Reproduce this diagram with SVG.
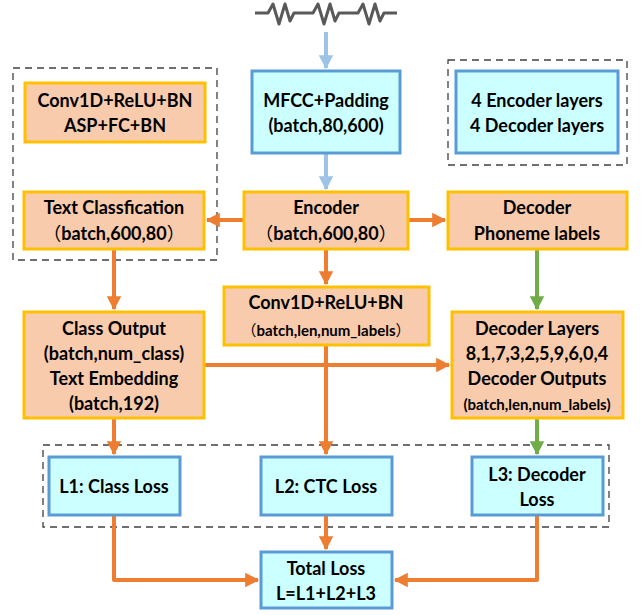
<svg xmlns="http://www.w3.org/2000/svg" width="641" height="615" viewBox="0 0 641 615">
<defs>
<style>
.o{fill:#F8CBAD;stroke:#FFC000;stroke-width:3}
.b{fill:#CCFFFF;stroke:#5B9BD5;stroke-width:3}
.d{fill:none;stroke:#404040;stroke-width:1.3;stroke-dasharray:7 5}
text{font-family:Lato,"Noto Sans CJK SC",sans-serif;font-weight:bold;font-size:18px;fill:#000;text-anchor:middle}
.s{font-size:15px}
.c{font-family:"Noto Sans CJK SC",sans-serif;font-weight:normal}
.ao{fill:none;stroke:#ED7D31;stroke-width:4}
.ab{fill:none;stroke:#9DC3E6;stroke-width:4}
.ag{fill:none;stroke:#70AD47;stroke-width:4}
</style>
<marker id="mo" markerWidth="4" markerHeight="4" refX="3.2" refY="2" orient="auto" markerUnits="strokeWidth" viewBox="0 0 4 4"><path d="M0,0.2 L3.5,2 L0,3.8 z" fill="#ED7D31"/></marker>
<marker id="mb" markerWidth="4" markerHeight="4" refX="3.2" refY="2" orient="auto" markerUnits="strokeWidth" viewBox="0 0 4 4"><path d="M0,0.2 L3.5,2 L0,3.8 z" fill="#9DC3E6"/></marker>
<marker id="mg" markerWidth="4" markerHeight="4" refX="3.2" refY="2" orient="auto" markerUnits="strokeWidth" viewBox="0 0 4 4"><path d="M0,0.2 L3.5,2 L0,3.8 z" fill="#70AD47"/></marker>
</defs>
<rect width="641" height="615" fill="#fff"/>

<g id="signal">
<path d="M255,13 H268 L273,4 L279,24 L285,4 L290,21 L294,13 H313 L318,4 L324,24 L330,4 L335,21 L339,13 H358 L363,4 L369,24 L375,4 L380,21 L384,13 H397" fill="none" stroke="#595959" stroke-width="3" stroke-linejoin="round"/>
</g>

<g id="groups">
<rect class="d" x="13" y="68" width="204" height="192"/>
<rect class="d" x="448" y="60" width="179" height="105"/>
<rect class="d" x="43" y="445" width="566" height="82"/>
</g>

<g id="connectors">
<path class="ab" d="M326,32 V68" marker-end="url(#mb)"/>
<path class="ab" d="M326,154 V189" marker-end="url(#mb)"/>
<path class="ao" d="M244,220 H207" marker-end="url(#mo)"/>
<path class="ao" d="M408,220 H445" marker-end="url(#mo)"/>
<path class="ao" d="M326,250 V284" marker-end="url(#mo)"/>
<path class="ag" d="M537,250 V309" marker-end="url(#mg)"/>
<path class="ao" d="M114,250 V309" marker-end="url(#mo)"/>
<path class="ao" d="M205,365 H449" marker-end="url(#mo)"/>
<path class="ao" d="M326,346 V454" marker-end="url(#mo)"/>
<path class="ao" d="M114,419 V454" marker-end="url(#mo)"/>
<path class="ag" d="M537,419 V454" marker-end="url(#mg)"/>
<path class="ao" d="M114,516 V580 H258" stroke-linejoin="round" marker-end="url(#mo)"/>
<path class="ao" d="M326,516 V549" marker-end="url(#mo)"/>
<path class="ao" d="M537,516 V580 H395" stroke-linejoin="round" marker-end="url(#mo)"/>
</g>

<g id="mfcc"><rect class="b" x="252" y="71" width="148" height="82"/>
<text x="326" y="107">MFCC+Padding</text><text x="326" y="132">(batch,80,600)</text></g>

<g id="layers"><rect class="b" x="456" y="71" width="162" height="82"/>
<text x="537" y="107">4 Encoder layers</text><text x="537" y="132">4 Decoder layers</text></g>

<g id="convasp"><rect class="o" x="25" y="83" width="180" height="59"/>
<text x="115" y="107">Conv1D+ReLU+BN</text><text x="115" y="132">ASP+FC+BN</text></g>

<g id="textcls"><rect class="o" x="24" y="192" width="180" height="57"/>
<text x="114" y="214">Text Classfication</text><text x="114" y="240"><tspan class="c">（</tspan>batch,600,80<tspan class="c">）</tspan></text></g>

<g id="encoder"><rect class="o" x="244" y="192" width="164" height="57"/>
<text x="326" y="214">Encoder</text><text x="326" y="240"><tspan class="c">（</tspan>batch,600,80<tspan class="c">）</tspan></text></g>

<g id="decphon"><rect class="o" x="448" y="192" width="179" height="57"/>
<text x="537" y="214">Decoder</text><text x="537" y="240">Phoneme labels</text></g>

<g id="conv"><rect class="o" x="224" y="287" width="205" height="58"/>
<text x="326" y="309">Conv1D+ReLU+BN</text><text class="s" x="326" y="336"><tspan class="c">（</tspan>batch,len,num_labels<tspan class="c">）</tspan></text></g>

<g id="classout"><rect class="o" x="24" y="312" width="180" height="106"/>
<text x="114" y="335">Class Output</text><text x="114" y="360">(batch,num_class)</text>
<text x="114" y="385">Text Embedding</text><text x="114" y="410">(batch,192)</text></g>

<g id="declayers"><rect class="o" x="452" y="312" width="171" height="106"/>
<text x="537" y="335">Decoder Layers</text><text x="537" y="360">8,1,7,3,2,5,9,6,0,4</text>
<text x="537" y="385">Decoder Outputs</text><text class="s" x="537" y="410">(batch,len,num_labels)</text></g>

<g id="l1"><rect class="b" x="49" y="457" width="131" height="58"/>
<text x="114" y="493">L1: Class Loss</text></g>

<g id="l2"><rect class="b" x="261" y="457" width="131" height="58"/>
<text x="326" y="493">L2: CTC Loss</text></g>

<g id="l3"><rect class="b" x="472" y="457" width="131" height="58"/>
<text x="537" y="481">L3: Decoder</text><text x="537" y="506">Loss</text></g>

<g id="total"><rect class="b" x="261" y="552" width="131" height="56"/>
<text x="326" y="575">Total Loss</text><text x="326" y="600">L=L1+L2+L3</text></g>
</svg>
